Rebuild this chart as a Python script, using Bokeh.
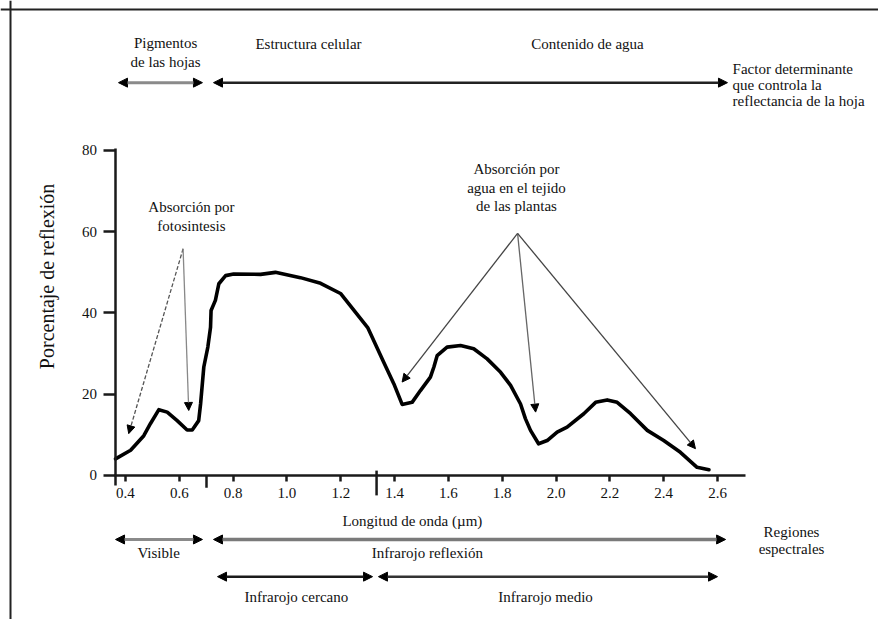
from bokeh.plotting import figure
from bokeh.models import (LinearAxis, FixedTicker, PrintfTickFormatter, Range1d,
                          Arrow, NormalHead, Label, Span)
from bokeh.embed import file_html
from bokeh.resources import INLINE

# ---------------- data ----------------
wavelength = [0.363, 0.419, 0.468, 0.493, 0.524, 0.555, 0.592, 0.629, 0.648, 0.672,
              0.679, 0.691, 0.706, 0.716, 0.718, 0.734, 0.747, 0.772, 0.802, 0.902,
              0.957, 1.05, 1.125, 1.199, 1.30, 1.36, 1.397, 1.428, 1.465, 1.496,
              1.533, 1.546, 1.558, 1.595, 1.645, 1.694, 1.744, 1.794, 1.831, 1.868,
              1.886, 1.905, 1.935, 1.967, 2.004, 2.041, 2.103, 2.147, 2.19, 2.227,
              2.277, 2.339, 2.40, 2.462, 2.524, 2.568]
reflectance = [4.1, 6.2, 9.8, 12.8, 16.2, 15.6, 13.5, 11.2, 11.2, 13.5,
               17.6, 26.7, 31.6, 36.5, 40.6, 43.1, 47.2, 49.2, 49.6, 49.5,
               50.0, 48.7, 47.3, 44.8, 36.4, 27.8, 22.6, 17.5, 18.0, 20.9,
               24.2, 26.7, 29.5, 31.6, 32.0, 31.2, 28.7, 25.4, 22.2, 17.6,
               14.0, 11.1, 7.8, 8.6, 10.7, 11.9, 15.2, 18.0, 18.6, 18.0,
               15.2, 11.1, 8.6, 5.7, 2.0, 1.4]
x_ticks = [0.4, 0.6, 0.8, 1.0, 1.2, 1.4, 1.6, 1.8, 2.0, 2.2, 2.4, 2.6]
y_ticks = [0, 20, 40, 60, 80]

FONT = "Liberation Serif"
INK = "#111111"

p = figure(width=878, height=619, output_backend="svg", toolbar_location=None,
           x_axis_location=None, y_axis_location=None, min_border=0,
           x_range=Range1d(-0.0645, 3.1982), y_range=Range1d(-35.45, 116.92))
p.outline_line_color = None
p.background_fill_color = "white"
p.border_fill_color = "white"
p.grid.visible = False

# outer frame (left and top edges)
p.add_layout(Span(location=-0.0273, dimension="height", line_color="#222222", line_width=2))
p.add_layout(Span(location=114.7, dimension="width", line_color="#222222", line_width=2))

# axes placed at fixed data locations
xaxis = LinearAxis(fixed_location=0, bounds=(0.359, 2.704),
                   ticker=FixedTicker(ticks=x_ticks),
                   formatter=PrintfTickFormatter(format="%.1f"))
xaxis.axis_line_width = 2.5
xaxis.axis_line_color = "#1a1a1a"
xaxis.major_tick_out = 6
xaxis.major_tick_in = 0
xaxis.major_tick_line_width = 2.5
xaxis.major_tick_line_color = "#1a1a1a"
xaxis.minor_tick_line_color = None
xaxis.major_label_standoff = 7
xaxis.major_label_text_font = FONT
xaxis.major_label_text_font_size = "15px"
xaxis.major_label_text_color = INK
p.add_layout(xaxis, "below")

yaxis = LinearAxis(fixed_location=0.361, bounds=(-2.5, 80.5),
                   ticker=FixedTicker(ticks=y_ticks))
yaxis.axis_line_width = 2.5
yaxis.axis_line_color = "#1a1a1a"
yaxis.major_tick_out = 12
yaxis.major_tick_in = 0
yaxis.major_tick_line_width = 2.5
yaxis.major_tick_line_color = "#1a1a1a"
yaxis.minor_tick_line_color = None
yaxis.major_label_standoff = 6
yaxis.major_label_text_font = FONT
yaxis.major_label_text_font_size = "15px"
yaxis.major_label_text_color = INK
p.add_layout(yaxis, "left")

# longer boundary ticks on the x axis
p.segment(x0=[0.701, 1.333], y0=[0.0, 1.2], x1=[0.701, 1.333], y1=[-3.0, -4.9],
          line_color="#1a1a1a", line_width=2.5)

# spectral curve
p.line(wavelength, reflectance, line_color="black", line_width=3.6,
       line_join="round", line_cap="round")


def add_arrow(x0, y0, x1, y1, color, width, both=True, size=9, dash="solid"):
    head = lambda: NormalHead(size=size, fill_color="black", line_color="black", line_width=1)
    p.add_layout(Arrow(x_start=x0, y_start=y0, x_end=x1, y_end=y1,
                       start=head() if both else None, end=head(),
                       line_color=color, line_width=width, line_dash=dash))


# top "factor" arrows
add_arrow(0.374, 96.7, 0.686, 96.7, "#8a8a8a", 3)
add_arrow(0.727, 96.7, 2.637, 96.7, "#222222", 2.5)
# bottom spectral-region arrows
add_arrow(0.363, -15.75, 0.686, -15.75, "#8a8a8a", 3)
add_arrow(0.727, -15.75, 2.63, -15.75, "#7a7a7a", 3.5)
add_arrow(0.742, -24.9, 1.318, -24.9, "#1a1a1a", 2.5)
add_arrow(1.34, -24.9, 2.60, -24.9, "#333333", 2.5)

# absorption pointer arrows
add_arrow(0.614, 55.8, 0.412, 10.3, "#555555", 1.3, both=False, size=8, dash="4 2")
add_arrow(0.614, 55.8, 0.635, 16.0, "#888888", 1.3, both=False, size=8)
add_arrow(1.857, 59.6, 1.428, 23.0, "#444444", 1.3, both=False, size=8)
add_arrow(1.857, 59.6, 1.924, 15.6, "#666666", 1.3, both=False, size=8)
add_arrow(1.857, 59.6, 2.518, 6.6, "#444444", 1.3, both=False, size=8)


def add_label(x, y, text, size="15px", align="center", lh=1.2, angle=0.0):
    p.add_layout(Label(x=x, y=y, text=text, text_align=align, text_baseline="middle",
                       text_font=FONT, text_font_size=size, text_color=INK,
                       text_line_height=lh, angle=angle))


add_label(0.549, 104.1, "Pigmentos\nde las hojas")
add_label(1.080, 106.3, "Estructura celular")
add_label(2.117, 106.3, "Contenido de agua")
add_label(2.656, 96.0, "Factor determinante\nque controla la\nreflectancia de la hoja",
          align="left", lh=1.0)
add_label(0.645, 63.75, "Absorción por\nfotosintesis")
add_label(1.853, 70.8, "Absorción por\nagua en el tejido\nde las plantas", lh=1.15)
add_label(1.466, -11.1, "Longitud de onda (µm)")
add_label(0.523, -19.2, "Visible")
add_label(1.522, -19.2, "Infrarojo reflexión")
add_label(2.875, -16.0, "Regiones\nespectrales", lh=1.07)
add_label(1.035, -29.8, "Infrarojo cercano")
add_label(1.961, -30.0, "Infrarojo medio")
add_label(0.110, 49.0, "Porcentaje de reflexión", size="20px", angle=1.5708)

open("out.html", "w").write(file_html(p, INLINE))
